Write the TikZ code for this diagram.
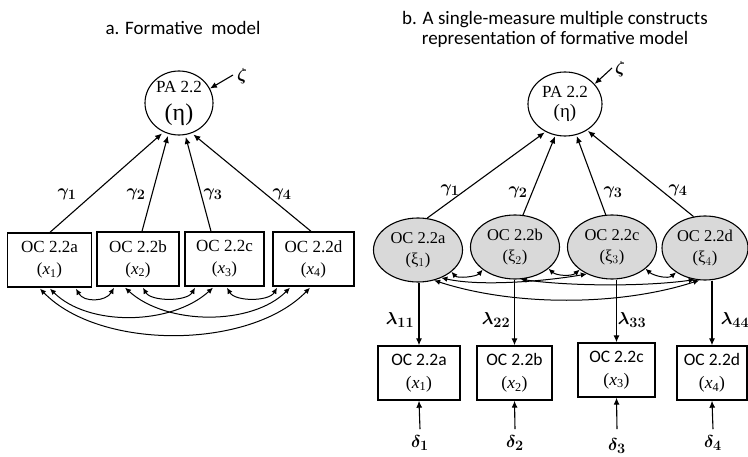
\documentclass[tikz,border=0pt]{standalone}
\usepackage{amsmath}
\usepackage{fontspec}
\setmainfont{Liberation Serif}
\newfontfamily\calib{Carlito}
\usetikzlibrary{arrows.meta,calc,shapes.geometric}
% italic measure symbol with a numeric index, e.g. (x_1)
\newcommand{\meas}[1]{{\rmfamily(\textit{x}\textsubscript{#1})}}

\begin{document}
\begin{tikzpicture}[x=1pt,y=-1pt,
  arr/.style={-{Latex[length=7pt,width=6pt]}, line width=1.1pt},
  cov/.style={{Latex[length=6pt,width=5.5pt]}-{Latex[length=6pt,width=5.5pt]}, line width=1pt},
  latent/.style={draw, ellipse, line width=1.1pt, inner sep=0pt, align=center},
  factor/.style={latent, fill=black!15, minimum width=89pt, minimum height=64pt,
    font=\fontsize{16.5}{21}\selectfont},
  obsA/.style={draw, rectangle, line width=1.4pt, minimum height=54pt, inner sep=0pt,
    align=center, font=\fontsize{17}{22}\selectfont},
  obsB/.style={obsA, font=\calib\fontsize{17.5}{23}\selectfont},
  coef/.style={inner sep=0pt, font=\fontsize{19}{22}\selectfont},
  heading/.style={inner sep=0pt, align=center, font=\calib\fontsize{19}{20}\selectfont}
]
\useasboundingbox (0,0) rectangle (748,457);

% ---------------- a. formative model ----------------
\node[heading] (ta) at (183,28) {a. Formative~ model};

\node[latent, minimum width=68pt, minimum height=64pt] (pa) at (179,103)
  {\fontsize{17}{20}\selectfont PA 2.2\\[10pt]\fontsize{24}{26}\selectfont(η)};
\node[coef] (za) at (242,76) {$\boldsymbol{\zeta}$};
\coordinate (zat) at (233,75);
\draw[arr] (zat) -- (pa.25);

\node[obsA, minimum width=84pt] (a1) at (49.5,260) {OC 2.2a\\\meas{1}};
\node[obsA, minimum width=82pt] (a2) at (138,259) {OC 2.2b\\\meas{2}};
\node[obsA, minimum width=79pt] (a3) at (224.5,259) {OC 2.2c\\\meas{3}};
\node[obsA, minimum width=81pt] (a4) at (313.5,259) {OC 2.2d\\\meas{4}};

\draw[arr, shorten >=2pt] ($(a1.north)+(0.5,0)$) -- (pa.-118);
\draw[arr, shorten >=2pt] ($(a2.north)+(4,0)$) -- (pa.-109);
\draw[arr, shorten >=2pt] ($(a3.north)+(-13.5,0)$) -- (pa.-79);
\draw[arr, shorten >=2pt] ($(a4.north)+(-2.5,0)$) -- (pa.-67);

\node[coef] (ga1) at (67,194) {$\boldsymbol{\gamma_1}$};
\node[coef] (ga2) at (136,194) {$\boldsymbol{\gamma_2}$};
\node[coef] (ga3) at (213,194) {$\boldsymbol{\gamma_3}$};
\node[coef] (ga4) at (282,194) {$\boldsymbol{\gamma_4}$};

% correlations among the indicators
\draw[cov] ($(a1.south)+(26.5,1)$) .. controls +(8,14) and +(-8,14) .. ($(a2.south)+(-24,1)$);
\draw[cov] ($(a2.south)+(5,1)$) .. controls +(8,14) and +(-8,14) .. ($(a3.south)+(-29.5,1)$);
\draw[cov] ($(a3.south)+(2.5,1)$) .. controls +(8,14) and +(-8,14) .. ($(a4.south)+(-36.5,1)$);
\draw[cov] ($(a1.south)+(0.5,1)$) .. controls +(38,38) and +(-42,38) .. ($(a3.south)+(-11.5,1)$);
\draw[cov] ($(a2.south)+(-13,1)$) .. controls +(42,38) and +(-38,38) .. ($(a4.south)+(-23.5,1)$);
\draw[cov] ($(a1.south)+(-9.5,1)$) .. controls +(60,62) and +(-60,62) .. ($(a4.south)+(-3.5,1)$);

% ---------------- b. single-measure multiple constructs ----------------
\node[heading] (tb) at (555,29) {b. A single-measure multiple constructs\\representation of formative model};

\node[latent, minimum width=74pt, minimum height=64pt] (pb) at (565,104)
  {\fontsize{17}{20}\selectfont PA 2.2\\[5pt]\fontsize{19}{21}\selectfont(η)};
\node[coef] (zb) at (620,69) {$\boldsymbol{\zeta}$};
\coordinate (zbt) at (612,68);
\draw[arr] (zbt) -- (pb.34);

\node[factor] (e1) at (418,250) {OC 2.2a\\(ξ$_1$)};
\node[factor] (e2) at (515,247) {OC 2.2b\\(ξ$_2$)};
\node[factor] (e3) at (612,247) {OC 2.2c\\(ξ$_3$)};
\node[factor, minimum width=86pt] (e4) at (705,248) {OC 2.2d\\(ξ$_4$)};

\draw[arr, shorten >=1pt] (e1.74) -- (pb.-125);
\draw[arr, shorten >=1pt] (e2.76) -- (pb.-107);
\draw[arr, shorten >=1pt] (e3.101) -- (pb.-70);
\draw[arr, shorten >=1pt] (e4.110) -- (pb.-50);

\node[coef] (gb1) at (450,190) {$\boldsymbol{\gamma_1}$};
\node[coef] (gb2) at (518,192) {$\boldsymbol{\gamma_2}$};
\node[coef] (gb3) at (613,192) {$\boldsymbol{\gamma_3}$};
\node[coef] (gb4) at (678,190) {$\boldsymbol{\gamma_4}$};

% correlations among the constructs
\draw[cov] (e1.-33) .. controls +(6,7) and +(-6,7) .. (e2.-145);
\draw[cov] (e2.-33) .. controls +(8,7) and +(-8,7) .. (e3.-145);
\draw[cov] (e3.-33) .. controls +(8,7) and +(-8,7) .. (e4.-140);
\draw[cov] (e1.-50) .. controls +(40,9) and +(-40,7) .. (e3.-133);
\draw[cov] (e2.-80) .. controls +(50,7) and +(-50,7) .. (e4.-108);
\draw[cov] (e1.-62) .. controls +(80,26) and +(-80,26) .. (e4.-100);

% single measures
\node[obsB, minimum width=82pt] (q1) at (419,373) {OC 2.2a\\\meas{1}};
\node[obsB, minimum width=75pt] (q2) at (514.5,373) {OC 2.2b\\\meas{2}};
\node[obsB, minimum width=77pt] (q3) at (616.5,370) {OC 2.2c\\\meas{3}};
\node[obsB, minimum width=70pt] (q4) at (712,373) {OC 2.2d\\\meas{4}};

\draw[arr] (e1.south -| q1.north) -- (q1.north);
\draw[arr] (e2.south -| q2.north) -- (q2.north);
\draw[arr] (e3.south -| q3.north) -- (q3.north);
\draw[arr] (e4.south -| q4.north) -- (q4.north);

\node[coef] (l1) at (400,320) {$\boldsymbol{\lambda_{11}}$};
\node[coef] (l2) at (496,320) {$\boldsymbol{\lambda_{22}}$};
\node[coef] (l3) at (632,320) {$\boldsymbol{\lambda_{33}}$};
\node[coef] (l4) at (735,320) {$\boldsymbol{\lambda_{44}}$};

\node[coef] (d1) at (420,443) {$\boldsymbol{\delta_1}$};
\node[coef] (d2) at (515,443) {$\boldsymbol{\delta_2}$};
\node[coef] (d3) at (617,446) {$\boldsymbol{\delta_3}$};
\node[coef] (d4) at (713,443) {$\boldsymbol{\delta_4}$};

\draw[arr] ([yshift=6pt]d1.north) -- (q1.south);
\draw[arr] ([yshift=6pt]d2.north) -- (q2.south);
\draw[arr] ([yshift=9pt]d3.north) -- (q3.south);
\draw[arr] ([yshift=6pt]d4.north) -- (q4.south);
\end{tikzpicture}
\end{document}
